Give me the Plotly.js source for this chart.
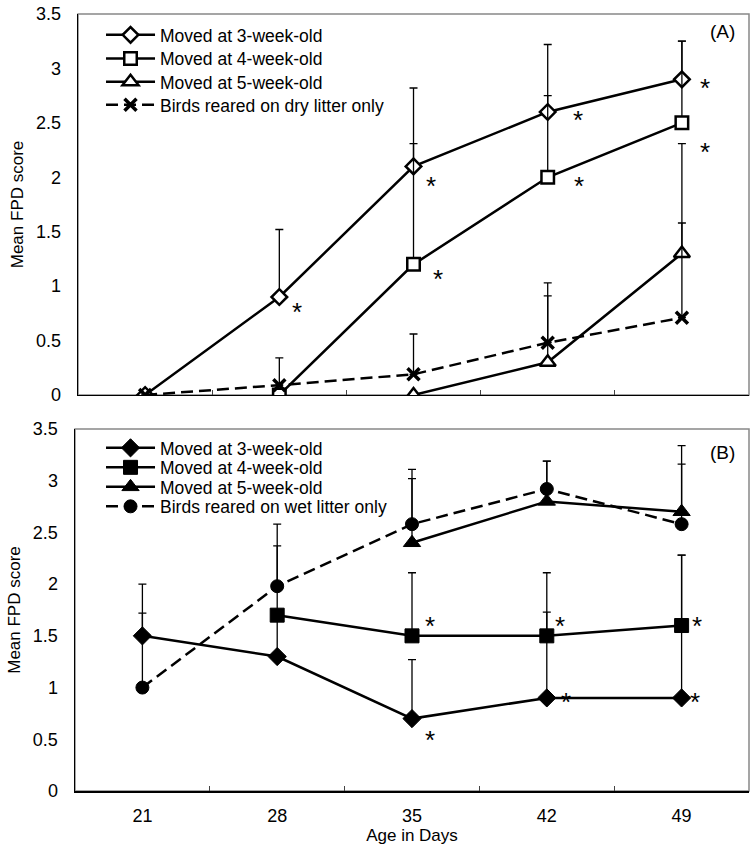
<!DOCTYPE html>
<html><head><meta charset="utf-8">
<script src="https://cdn.plot.ly/plotly-3.0.1.min.js"></script>
<style>body{margin:0;background:#fff}#c{width:756px;height:850px}</style>
</head><body><div id="c"></div>
<script>
var days = ['21','28','35','42','49'];
// Panel A (dry litter)
var a3 = [0, 0.9, 2.1, 2.6, 2.9];
var a3err = [0, 0.62, 0.72, 0.62, 0.35];
var a4 = [null, 0, 1.2, 2.0, 2.5];
var a4err = [0, 0, 1.11, 0.75, 0.75];
var a5 = [null, null, 0, 0.3, 1.3];
var a5err = [0, 0, 0, 0.73, 1.01];
var aDry = [0, 0.09, 0.19, 0.48, 0.71];
var aDryErr = [0, 0.25, 0.37, 0.43, 0.87];
// Panel B (wet litter)
var b3 = [1.5, 1.3, 0.7, 0.9, 0.9];
var b3err = [0.5, 1.07, 0.57, 0.83, 1.38];
var b4 = [null, 1.7, 1.5, 1.5, 1.6];
var b4err = [0, 0, 0.61, 0.61, 0.68];
var b5 = [null, null, 2.4, 2.8, 2.7];
var b5err = [0, 0, 0.62, 0.39, 0.64];
var bWet = [1.0, 1.98, 2.58, 2.92, 2.58];
var bWetErr = [0.72, 0.6, 0.53, 0.27, 0.58];
var namesA = ['Moved at 3-week-old','Moved at 4-week-old','Moved at 5-week-old','Birds reared on dry litter only'];
var namesB = ['Moved at 3-week-old','Moved at 4-week-old','Moved at 5-week-old','Birds reared on wet litter only'];
// significance asterisks: [series values, day index, dx, dy]
var starsA = [[a3,1,18,8],[a3,2,17,13],[a4,2,24,8],[a3,3,30,1],[a4,3,31,2],[a3,4,23,2],[a4,4,23,22]];
var starsB = [[b4,2,18,-17],[b3,2,18,14],[b4,3,13,-17],[b3,3,19,-3],[b4,4,15,-7],[b3,4,13,-3]];

var FONT = 'Liberation Sans, Arial, sans-serif';
function tr(y, err, name, sym, fill, size, dash, xa, ya, leg, lw) {
  return {x: days, y: y, name: name, type: 'scatter', mode: 'lines+markers',
    xaxis: xa, yaxis: ya, legend: leg, connectgaps: false,
    line: {color: 'black', width: 2.5, dash: dash},
    marker: {symbol: sym, size: size, color: fill, line: {color: 'black', width: lw}},
    error_y: {type: 'data', symmetric: false, array: err, arrayminus: err.map(function(){return 0;}),
      color: 'black', thickness: 1.3, width: 4}};
}
var dashP = '12px,6px';
var data = [
  tr(a3, a3err, namesA[0], 'diamond', 'white', 12, 'solid', 'x', 'y', 'legend', 2.5),
  tr(a4, a4err, namesA[1], 'square', 'white', 12.5, 'solid', 'x', 'y', 'legend2', 2.5),
  tr(a5, a5err, namesA[2], 'triangle-up', 'white', 14, 'solid', 'x', 'y', 'legend3', 2.5),
  tr(aDry, aDryErr, namesA[3], 'x-thin', 'black', 12, dashP, 'x', 'y', 'legend4', 3.5),
  tr(b3, b3err, namesB[0], 'diamond', 'black', 14, 'solid', 'x2', 'y2', 'legend5', 1),
  tr(b4, b4err, namesB[1], 'square', 'black', 14, 'solid', 'x2', 'y2', 'legend6', 1),
  tr(b5, b5err, namesB[2], 'triangle-up', 'black', 15, 'solid', 'x2', 'y2', 'legend7', 1),
  tr(bWet, bWetErr, namesB[3], 'circle', 'black', 13, dashP, 'x2', 'y2', 'legend8', 1)
];
var ann = [];
function addStars(list, xr, yr) {
  list.forEach(function(s){
    ann.push({x: s[1], y: s[0][s[1]], xref: xr, yref: yr, text: '*', showarrow: false,
      xshift: s[2], yshift: -(s[3] + 7), font: {family: FONT, size: 26, color: 'black'}});
  });
}
addStars(starsA, 'x', 'y');
addStars(starsB, 'x2', 'y2');
ann.push({xref: 'paper', yref: 'paper', x: 0.961, y: 0.978, xanchor: 'center', yanchor: 'middle', text: '(A)', showarrow: false, font: {family: FONT, size: 19, color: 'black'}});
ann.push({xref: 'paper', yref: 'paper', x: 0.961, y: 0.436, xanchor: 'center', yanchor: 'middle', text: '(B)', showarrow: false, font: {family: FONT, size: 19, color: 'black'}});

function xax(dom, labels, anchor) {
  return {type: 'category', domain: dom, anchor: anchor, range: [-0.5, 4.5], showgrid: false, zeroline: false,
    showline: true, linecolor: 'black', linewidth: 1.5, ticks: 'inside', tickson: 'boundaries', ticklen: 5,
    tickcolor: '#444', showticklabels: labels, ticklabelstandoff: 8,
    tickfont: {family: FONT, size: 18, color: 'black'}, fixedrange: true};
}
function yax(dom, anchor) {
  return {domain: dom, anchor: anchor, range: [0, 3.5], dtick: 0.5, showgrid: false, zeroline: false,
    showline: true, linecolor: 'black', linewidth: 1.5, ticks: '', ticklabelstandoff: 12,
    tickfont: {family: FONT, size: 18, color: 'black'},
    title: {text: 'Mean FPD score', font: {family: FONT, size: 17, color: 'black'}, standoff: 8}};
}
var xa2 = xax([0, 1], true, 'y2');
xa2.title = {text: 'Age in Days', font: {family: FONT, size: 17, color: 'black'}, standoff: 2};
var layout = {
  width: 756, height: 850, margin: {l: 75, r: 7, t: 14, b: 59},
  paper_bgcolor: 'white', plot_bgcolor: 'white', showlegend: true,
  font: {family: FONT, color: 'black'},
  xaxis: xax([0.0045, 1], false, 'y'),
  yaxis: yax([0.5097, 1], 'x'),
  xaxis2: xa2,
  yaxis2: yax([0, 0.4659], 'x2'),
  annotations: ann,
  shapes: [
    {type: 'rect', xref: 'x domain', yref: 'y domain', x0: 0, x1: 1, y0: 0, y1: 1, line: {color: '#888', width: 1.5}, layer: 'below'},
    {type: 'rect', xref: 'x2 domain', yref: 'y2 domain', x0: 0, x1: 1, y0: 0, y1: 1, line: {color: '#888', width: 1.5}, layer: 'below'}
  ]
};
// one legend per row so each row sits where the reference puts it
var legendRowsY = [0.973, 0.9427, 0.9125, 0.8829, 0.4415, 0.4164, 0.3913, 0.3662];
legendRowsY.forEach(function(yy, i){
  var key = i === 0 ? 'legend' : 'legend' + (i + 1);
  layout[key] = {x: 0.0386, y: yy, xanchor: 'left', yanchor: 'middle', bgcolor: 'rgba(0,0,0,0)',
    itemwidth: 49, font: {family: FONT, size: 17.5, color: 'black'}, borderwidth: 0};
});
Plotly.newPlot('c', data, layout, {displayModeBar: false, staticPlot: true});
</script></body></html>
